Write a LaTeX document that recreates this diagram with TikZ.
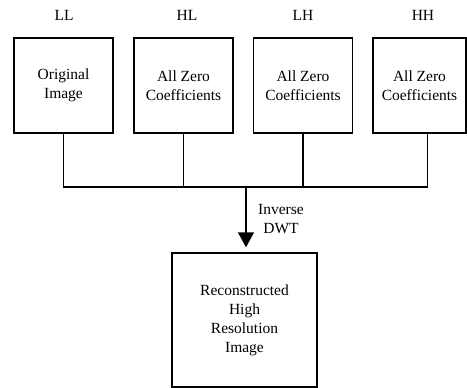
\documentclass[tikz,border=0pt]{standalone}
\usepackage{fontspec}
\setmainfont{Liberation Serif}
\usetikzlibrary{arrows.meta}
\tikzset{
  blockbox/.style={draw, line width=1.4pt, minimum width=99pt, minimum height=95pt,
    align=center, inner sep=0pt, font=\fontsize{15.5}{19}\selectfont},
  bandlabel/.style={font=\fontsize{15.5}{19}\selectfont},
  wire/.style={line width=1.4pt},
}
\begin{document}
\begin{tikzpicture}[x=1pt,y=-1pt]
        \useasboundingbox (0,0) rectangle (467,388);
        % sub-band labels
        \node[bandlabel] (ll) at (64,15) {LL};
        \node[bandlabel] (hl) at (187,15) {HL};
        \node[bandlabel] (lh) at (303,15) {LH};
        \node[bandlabel] (hh) at (423,15) {HH};
        % sub-band blocks
        \node[blockbox] (orig) at (63.5,85.5) {Original\\Image};
        \node[blockbox] (hlbox) at (183.5,85.5) {All Zero\\Coefficients};
        \node[blockbox] (lhbox) at (303,85.5) {All Zero\\Coefficients};
        \node[blockbox, minimum width=93pt] (hhbox) at (419.5,85.5) {All Zero\\Coefficients};
        \node[blockbox, minimum width=145pt, minimum height=134pt] (recon) at (244.5,320)
            {Reconstructed\\High\\Resolution\\Image};
        % bus and arrow
        \coordinate (bus) at (246,187);
        \draw[wire] (orig.south) -- (orig.south |- bus) -- ([xshift=8pt]hhbox.south |- bus) -- ([xshift=8pt]hhbox.south);
        \draw[wire] (hlbox.south) -- (hlbox.south |- bus);
        \draw[wire] (lhbox.south) -- (lhbox.south |- bus);
        \draw[wire, -{Triangle[width=16pt,length=15pt]}, shorten >=5pt] (bus) -- (bus |- recon.north);
        \node[bandlabel, align=center] (idwt) at (281,219) {Inverse\\DWT};
\end{tikzpicture}
\end{document}
